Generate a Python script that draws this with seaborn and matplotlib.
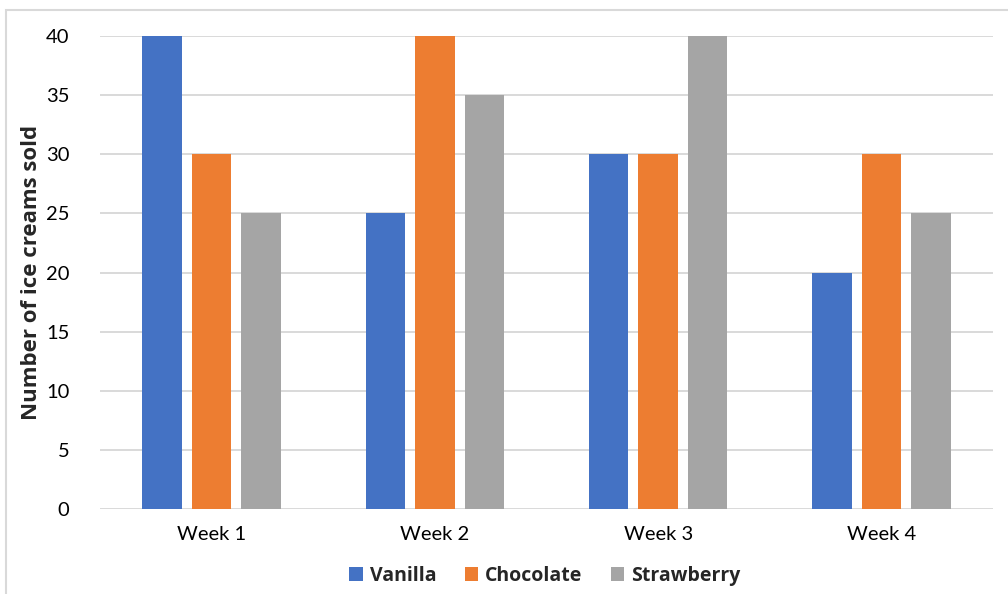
import matplotlib
matplotlib.use("Agg")
import matplotlib.pyplot as plt
from matplotlib.patches import Rectangle, Patch
import seaborn as sns
import pandas as pd

weeks = ["Week 1", "Week 2", "Week 3", "Week 4"]
flavours = ["Vanilla", "Chocolate", "Strawberry"]
vanilla = [40, 25, 30, 20]
chocolate = [30, 40, 30, 30]
strawberry = [25, 35, 40, 25]
colors = ["#4472C4", "#ED7D31", "#A5A5A5"]

rows = []
for name, vals in zip(flavours, [vanilla, chocolate, strawberry]):
    for w, v in zip(weeks, vals):
        rows.append({"Week": w, "Flavour": name, "Sold": v})
df = pd.DataFrame(rows)

sns.set_theme(style="white")
plt.rcParams["font.family"] = ["Lato", "DejaVu Sans"]
bold_font = ["Open Sans", "DejaVu Sans"]

fig = plt.figure(figsize=(10.08, 5.94), dpi=100)
ax = fig.add_axes([100 / 1008, 85 / 594, 893 / 1008, 473 / 594])

sns.barplot(data=df, x="Week", y="Sold", hue="Flavour", order=weeks,
            hue_order=flavours, palette=colors, width=0.665, gap=0.2,
            saturation=1, errorbar=None, ax=ax, legend=False, zorder=3,
            linewidth=0, edgecolor="none")

ax.set_ylim(0, 40)
ax.set_yticks(range(0, 41, 5))
ax.yaxis.grid(True, color="#D9D9D9", linewidth=1.4, zorder=0)
ax.set_axisbelow(True)
for s in ax.spines.values():
    s.set_visible(False)
ax.tick_params(axis="both", length=0, labelsize=14.5, colors="#000000")
ax.tick_params(axis="y", pad=22)
ax.tick_params(axis="x", pad=12)
ax.set_xlabel("")
ax.set_ylabel("Number of ice creams sold", fontsize=16, fontweight="bold",
              family=bold_font, labelpad=3)

handles = [Patch(facecolor=c, edgecolor="none") for c in colors]
fig.legend(handles, flavours, loc="center", bbox_to_anchor=(545 / 1008, 1 - 576 / 594),
           ncol=3, frameon=False, handlelength=0.7, handleheight=0.7,
           handletextpad=0.35, columnspacing=1.45,
           prop={"size": 14, "weight": "bold", "family": bold_font})

fig.patches.append(Rectangle((6 / 1008, -0.05), 1.1, 1 - 10 / 594 + 0.05,
                             transform=fig.transFigure, fill=False,
                             edgecolor="#D9D9D9", linewidth=1.5))

fig.savefig("out.png", dpi=100)
